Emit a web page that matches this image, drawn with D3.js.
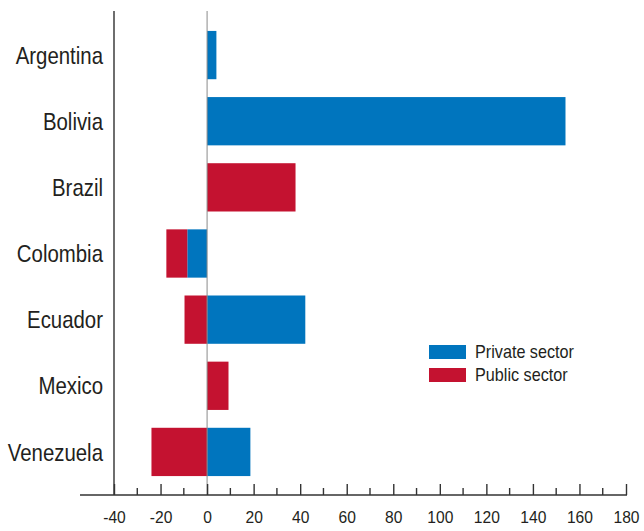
<!DOCTYPE html>
<html>
<head>
<meta charset="utf-8">
<script src="https://cdn.jsdelivr.net/npm/d3@7"></script>
<style>
  body { margin: 0; background: #fff; }
  text { font-family: "Liberation Sans", Arial, sans-serif; fill: #231f20; }
</style>
</head>
<body>
<div id="chart"></div>
<script>
var width = 644,
  height = 531;

// values
var countries = ["Argentina", "Bolivia", "Brazil", "Colombia", "Ecuador", "Mexico", "Venezuela"];
var privateSector = [4, 154, 0, -8.5, 42.2, 0, 18.6];
var publicSector = [0, 0, 38, -9, -9.7, 9.2, -23.9];
var seriesNames = ["Private sector", "Public sector"];
var seriesColors = ["#0075be", "#c41230"];
var majorTicks = [-40, -20, 0, 20, 40, 60, 80, 100, 120, 140, 160, 180];
var minorTicks = [-30, -10, 10, 30, 50, 70, 90, 110, 130, 150, 170];

var rows = countries.map(function(c, i) {
  return { country: c, priv: privateSector[i], pub: publicSector[i] };
});

var svg = d3.select("#chart").append("svg")
  .attr("width", width)
  .attr("height", height);

var axisY = 495;

var x = d3.scaleLinear()
  .domain([-40, 180])
  .range([114, 626]);

var y = d3.scaleBand()
  .domain(countries)
  .range([22, 485])
  .paddingInner(0.27)
  .paddingOuter(0.135);

var stack = d3.stack()
  .keys(["priv", "pub"])
  .offset(d3.stackOffsetDiverging);
var series = stack(rows);

// bars
svg.append("g").selectAll("g")
  .data(series)
  .enter().append("g")
    .attr("fill", function(d, i) { return seriesColors[i]; })
  .selectAll("rect")
  .data(function(d) { return d; })
  .enter().append("rect")
    .attr("x", function(d) { return x(Math.min(d[0], d[1])); })
    .attr("y", function(d) { return y(d.data.country); })
    .attr("width", function(d) { return Math.abs(x(d[1]) - x(d[0])); })
    .attr("height", y.bandwidth());

// zero line
svg.append("line")
  .attr("x1", x(0)).attr("x2", x(0))
  .attr("y1", 11).attr("y2", axisY)
  .attr("stroke", "#8a8a8a")
  .attr("stroke-width", 1);

// left vertical line
svg.append("line")
  .attr("x1", x(-40)).attr("x2", x(-40))
  .attr("y1", 11).attr("y2", axisY)
  .attr("stroke", "#4a4a4a")
  .attr("stroke-width", 1.6);

// bottom axis
var xAxis = d3.axisBottom(x)
  .tickValues(majorTicks)
  .tickSizeInner(-11)
  .tickSizeOuter(0)
  .tickPadding(16)
  .tickFormat(function(d) { return String(d); });

var gx = svg.append("g")
  .attr("transform", "translate(0," + axisY + ")")
  .call(xAxis);
gx.select(".domain").remove();
gx.selectAll(".tick line").attr("stroke", "#333").attr("stroke-width", 1.4);
gx.selectAll(".tick text")
  .style("font-size", "17px")
  .attr("fill", "#231f20")
  .style("font-family", "\"Liberation Sans\", Arial, sans-serif")
  .attr("transform", "scale(0.92,1)");

gx.selectAll(".minor")
  .data(minorTicks)
  .enter().append("line")
    .attr("class", "minor")
    .attr("x1", function(d) { return x(d); })
    .attr("x2", function(d) { return x(d); })
    .attr("y1", 0).attr("y2", -7)
    .attr("stroke", "#333")
    .attr("stroke-width", 1.4);

svg.append("line")
  .attr("x1", 80).attr("x2", x(180) + 1)
  .attr("y1", axisY).attr("y2", axisY)
  .attr("stroke", "#333")
  .attr("stroke-width", 1.6);

// category labels (condensed by a horizontal scale)
svg.append("g").selectAll("g")
  .data(countries)
  .enter().append("g")
    .attr("transform", function(d) {
      return "translate(103," + (y(d) + y.bandwidth() / 2) + ") scale(0.85,1)";
    })
  .append("text")
    .attr("dy", "0.36em")
    .attr("text-anchor", "end")
    .style("font-size", "24px")
    .text(function(d) { return d; });

// legend
var legend = svg.append("g")
  .attr("transform", "translate(429,345)");
var li = legend.selectAll("g")
  .data(seriesNames)
  .enter().append("g")
    .attr("transform", function(d, i) { return "translate(0," + (i * 23) + ")"; });
li.append("rect")
  .attr("width", 37)
  .attr("height", 14)
  .attr("fill", function(d, i) { return seriesColors[i]; });
li.append("text")
  .attr("transform", "translate(46,7) scale(0.9,1)")
  .attr("dy", "0.36em")
  .style("font-size", "18px")
  .text(function(d) { return d; });
</script>
</body>
</html>
